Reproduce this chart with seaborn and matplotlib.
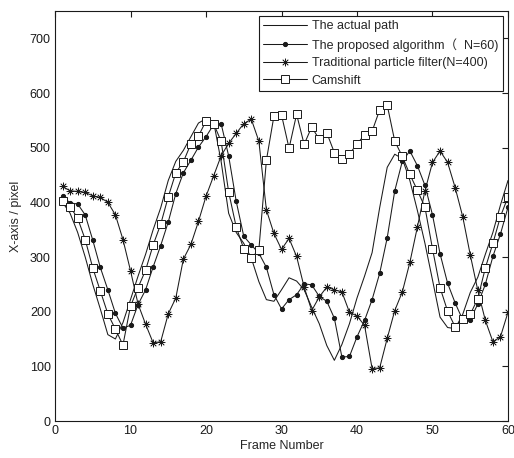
import numpy as np
import pandas as pd
import matplotlib
matplotlib.use("Agg")
import matplotlib.pyplot as plt
import seaborn as sns

frames = list(range(1, 61))

actual_path = [400, 380, 345, 300, 250, 205, 158, 150, 180, 222,
               265, 305, 350, 390, 440, 475, 495, 520, 545, 553,
               548, 475, 380, 345, 325, 298, 255, 222, 219, 240,
               262, 256, 240, 208, 178, 138, 111, 140, 178, 225,
               265, 308, 390, 464, 488, 480, 440, 385, 325, 258,
               190, 171, 169, 195, 235, 263, 305, 345, 395, 440]

proposed = [411, 399, 397, 377, 331, 281, 240, 197, 170, 175,
            213, 240, 282, 321, 364, 416, 454, 477, 501, 520,
            542, 544, 485, 402, 338, 322, 307, 281, 231, 205,
            222, 231, 251, 249, 228, 219, 188, 117, 118, 154,
            184, 222, 270, 335, 421, 475, 494, 467, 431, 377,
            306, 252, 216, 185, 185, 214, 250, 301, 342, 391]

traditional_pf = [429, 421, 420, 418, 412, 409, 400, 377, 332, 275,
                  214, 177, 143, 145, 196, 225, 296, 323, 365, 411,
                  448, 485, 508, 526, 544, 552, 512, 386, 343, 314,
                  334, 301, 245, 202, 227, 245, 240, 236, 199, 192,
                  175, 96, 97, 151, 202, 236, 290, 355, 421, 473,
                  494, 473, 427, 374, 304, 239, 184, 145, 154, 199]

camshift = [402, 392, 371, 332, 280, 238, 196, 168, 139, 210,
            244, 276, 322, 360, 410, 454, 474, 507, 521, 549,
            544, 512, 419, 355, 315, 298, 313, 477, 558, 560,
            499, 561, 506, 538, 515, 527, 491, 480, 489, 506,
            524, 530, 569, 578, 512, 484, 451, 422, 391, 315,
            244, 201, 172, 187, 195, 224, 280, 325, 374, 410]

labels = ["The actual path",
          "The proposed algorithm\uff08  N=60)",
          "Traditional particle filter(N=400)",
          "Camshift"]
x_ticks = [0, 10, 20, 30, 40, 50, 60]
y_ticks = [0, 100, 200, 300, 400, 500, 600, 700]

sns.set_theme(style="white")
plt.rcParams['font.family'] = ['Liberation Sans', 'Noto Sans CJK SC']
plt.rcParams['font.size'] = 9
plt.rcParams['axes.linewidth'] = 0.8

fig = plt.figure(figsize=(5.14, 4.58), dpi=100)
ax = fig.add_axes([55/514, 37/458, 453/514, 410/458])

series = [actual_path, proposed, traditional_pf, camshift]
styles = [
    dict(marker=None),
    dict(marker='o', markersize=3.0, markerfacecolor='k', markeredgecolor='k'),
    dict(marker=(8, 2, 0), markersize=5.5, markeredgecolor='k', markeredgewidth=0.5),
    dict(marker='s', markersize=6.0, markerfacecolor='white', markeredgecolor='k', markeredgewidth=0.7),
]
for vals, lab, st in zip(series, labels, styles):
    df = pd.DataFrame({"frame": frames, "value": vals})
    sns.lineplot(data=df, x="frame", y="value", ax=ax, color='k',
                 linewidth=0.75, label=lab, **st)

ax.set_xlim(0, 60)
ax.set_ylim(0, 750)
ax.set_xticks(x_ticks)
ax.set_yticks(y_ticks)
ax.tick_params(direction='in', top=True, right=True, length=4, width=0.8,
               labelsize=9, colors='k', pad=3)
for sp in ax.spines.values():
    sp.set_color('k')
    sp.set_linewidth(0.8)
ax.set_xlabel("Frame Number", fontsize=9, labelpad=2)
ax.set_ylabel("X-axis / pixel", fontsize=9, labelpad=6)

leg = ax.legend(loc='upper right', bbox_to_anchor=(0.988, 0.988), fontsize=9,
                frameon=True, fancybox=False, edgecolor='k', framealpha=1,
                handlelength=3.5, labelspacing=0.45, borderpad=0.35,
                handletextpad=0.4, borderaxespad=0.0)
leg.get_frame().set_linewidth(0.8)

fig.savefig("out.png", dpi=100)
